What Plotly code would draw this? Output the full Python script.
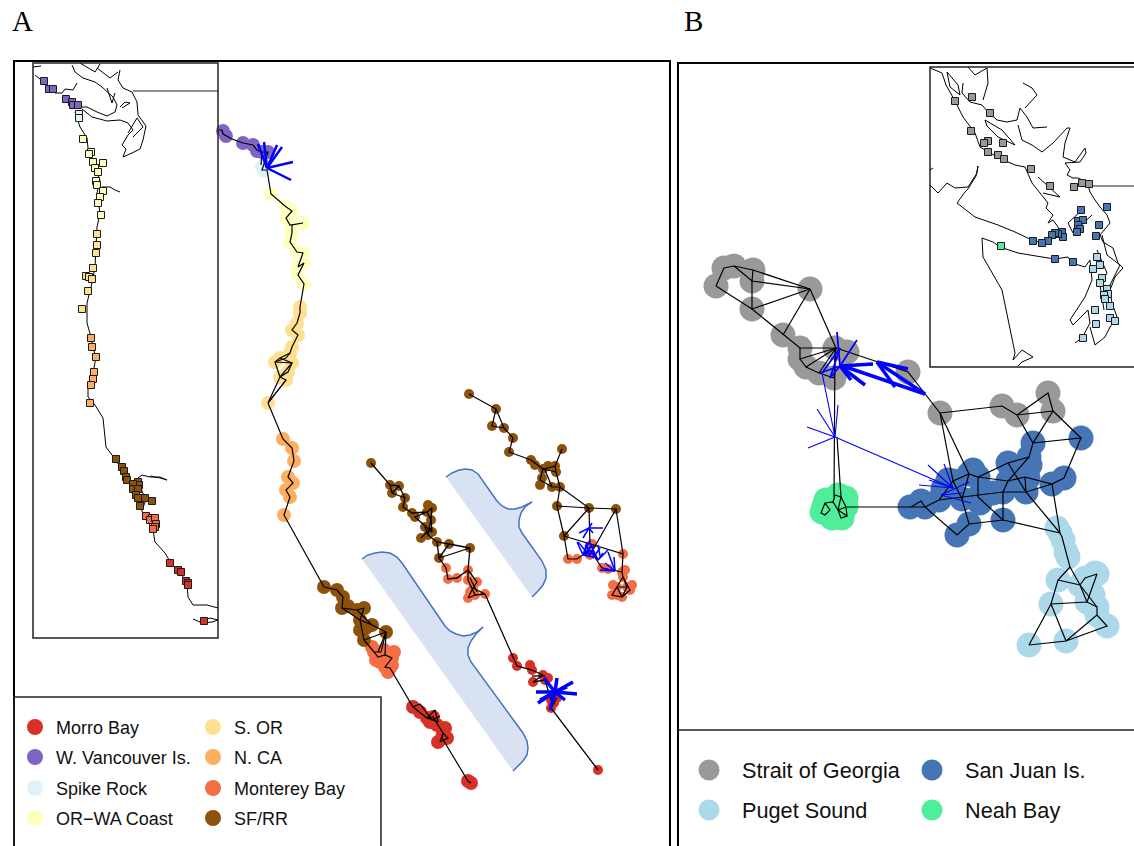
import plotly.graph_objects as go

# colours
morro = '#D73027'
vanc = '#8064C4'
spike = '#E0F3F8'
orwa = '#FFFFBF'
sor = '#FEE090'
nca = '#FDAE61'
monterey = '#F46D43'
sfrr = '#8C510A'
georgia = '#999999'
sanjuan = '#4575B4'
puget = '#ABD9E9'
neah = '#4FEE9A'

# legends
legend_a_names = ['Morro Bay', 'W. Vancouver Is.', 'Spike Rock', 'OR\u2212WA Coast', 'S. OR', 'N. CA', 'Monterey Bay', 'SF/RR']
legend_a_cols = [morro, vanc, spike, orwa, sor, nca, monterey, sfrr]
legend_a_x = [35, 35, 35, 35, 213, 213, 213, 213]
legend_a_y = [727, 757, 788, 818, 727, 757, 788, 818]
legend_b_names = ['Strait of Georgia', 'Puget Sound', 'San Juan Is.', 'Neah Bay']
legend_b_cols = [georgia, puget, sanjuan, neah]
legend_b_x = [709, 709, 932, 932]
legend_b_y = [770, 810, 770, 810]

# first network, panel A
n1_vanc = [(223,131),(226,136),(243,143),(253,145),(257,151),(262,152),(268,152)]
n1_spike = [(262,167),(264,171)]
n1_orwa = [(271,194),(285,206),(292,211),(286,218),(290,225),(303,223),(292,233),(290,242),(297,252),(303,253),(298,267),(304,263),(298,275),(304,284)]
n1_sor = [(300,307),(300,313),(297,323),(292,330),(298,335),(292,347),(290,353),(280,358),(275,362),(292,363),(288,372),(280,377),(286,380),(268,403)]
n1_nca = [(283,439),(292,448),(294,461),(288,477),(293,483),(286,490),(290,497),(284,515)]
n1_sf = [(324,587),(337,590),(343,597),(342,608),(348,606),(357,610),(364,608),(360,620),(362,625),(372,625),(366,628),(360,630),(364,640),(386,632)]
n1_mont = [(372,647),(374,652),(378,657),(384,650),(385,655),(394,652),(392,658),(380,662),(376,660),(385,667),(390,668),(388,672),(392,665)]
n1_morro = [(413,707),(420,712),(427,718),(433,717),(430,722),(437,725),(445,728),(443,733),(442,738),(438,742),(447,738),(468,781),(471,783)]
n1_edges = [
    [(219,130),(222,130),(223,134),(232,139),(243,143),(253,145),(257,150),(262,152),(268,152),(263,167),(262,170),(267,170),(271,194),(285,206),(292,211),(286,218),(290,225),(303,223),(292,225),(292,233),(290,242),(297,252),(303,253),(298,267),(304,263),(298,275),(304,284),(300,307),(300,313),(297,323),(292,330),(298,335),(292,347),(290,353),(280,358),(275,362),(292,363),(288,372),(280,377),(286,380),(268,403),(280,377)],
    [(290,353),(286,358),(275,362),(280,377),(292,363),(280,358)],
    [(262,152),(261,165)],
    [(268,403),(286,380)],
    [(268,403),(283,439),(292,448),(294,461),(288,477),(293,483),(286,490),(290,497),(284,515),(324,587),(337,590),(343,597),(342,608),(357,610),(364,608),(360,620),(372,625),(386,632),(381,652),(374,652),(378,657),(385,655),(392,658),(385,667),(390,668),(413,707),(427,718),(433,717),(443,733),(442,738),(468,781),(471,783)],
    [(342,608),(360,620),(364,640),(374,652)],
    [(357,610),(372,625)],
    [(386,632),(364,640)],
    [(386,632),(385,655)],
    [(386,632),(378,652)],
    [(413,707),(420,704),(432,720),(440,716)],
    [(427,718),(435,710),(438,722),(427,718)],
    [(443,733),(440,742),(448,738),(443,733)],
]

# second network
n2_sf = [(371,463),(390,485),(399,486),(392,493),(405,498),(403,507),(412,513),(415,517),(432,508),(427,512),(431,520),(428,505),(425,527),(432,532),(421,538),(428,535),(437,542),(449,544),(470,548),(439,558)]
n2_mont = [(446,568),(448,579),(457,578),(468,570),(468,580),(477,582),(473,588),(470,592),(468,598),(475,595),(485,594)]
n2_morro = [(513,658),(517,666),(532,670),(530,665),(543,675),(533,682),(545,680),(548,678),(551,700),(557,698),(553,695),(554,703),(551,708),(598,770)]
n2_edges = [
    [(371,463),(390,485),(399,486),(392,493),(390,485)],
    [(392,493),(405,498),(399,486)],
    [(405,498),(403,507),(412,513),(427,512),(432,508),(431,520),(427,512),(415,517),(432,532),(431,520)],
    [(425,527),(428,535),(431,520)],
    [(421,538),(432,527)],
    [(428,535),(437,542),(449,544),(470,548),(439,558),(437,542)],
    [(449,544),(439,558),(446,568),(448,579),(457,578),(468,570),(470,548)],
    [(468,570),(477,582),(473,588),(468,598),(475,595),(468,580),(468,570)],
    [(473,588),(485,594),(475,595)],
    [(470,578),(477,592)],
    [(485,594),(513,658),(517,666),(532,670),(543,675),(533,682),(545,680),(551,700),(557,698),(551,708),(598,770)],
    [(532,676),(545,676)],
]

# third network
n3_sf = [(469,394),(496,409),(492,426),(504,428),(513,438),(509,452),(531,460),(535,465),(562,449),(543,469),(548,466),(555,466),(556,472),(542,478),(540,485),(552,487),(560,487),(557,506),(589,508),(616,509),(564,536)]
n3_mont = [(568,559),(577,559),(592,544),(590,555),(623,554),(602,568),(608,569),(622,572),(625,570),(623,577),(627,587),(617,587),(613,585),(612,595),(617,595),(622,597),(630,590),(632,585)]
n3_edges = [
    [(469,394),(496,409),(492,426),(504,428),(496,409)],
    [(504,428),(513,438),(509,452),(531,460),(543,469),(555,466),(562,449)],
    [(543,469),(540,480),(552,487),(560,487),(556,472),(555,466)],
    [(543,469),(556,472)],
    [(545,470),(552,487)],
    [(560,487),(589,508),(616,509),(590,555)],
    [(589,508),(590,545)],
    [(616,509),(623,554)],
    [(557,506),(589,508)],
    [(557,506),(564,536),(589,508)],
    [(560,487),(557,506)],
    [(564,536),(568,559),(577,559),(590,550)],
    [(564,536),(623,554),(622,572)],
    [(590,550),(602,568),(622,572),(623,577),(627,587),(617,587),(612,595),(622,597),(630,590),(623,577),(612,595)],
    [(617,587),(622,597)],
    [(627,587),(622,597)],
]

# blue movement lines, panel A
blue_a_thick = [[(267,168),(258,144)],[(267,168),(264,142)],[(267,168),(277,145)],[(267,168),(282,147)],[(267,168),(293,162)],[(267,168),(291,180)]]
blue_star = [[(555,692),(573,682)],[(555,692),(577,694)],[(555,692),(557,678)],[(555,692),(536,692)],[(555,692),(538,703)],[(555,692),(550,710)],[(555,692),(565,700)],[(555,692),(540,700)],[(555,692),(544,678)],[(555,692),(567,687)],[(555,692),(552,700)]]
blue_n3 = [
    [(589,528),(579,533)],[(589,528),(583,538)],[(589,528),(593,533)],[(589,528),(603,528)],[(589,528),(592,523)],
    [(583,555),(577,542)],[(583,555),(587,543)],[(583,555),(592,545)],[(583,555),(593,557)],[(583,555),(590,540)],
    [(590,556),(578,542)],[(590,556),(586,542)],[(590,556),(594,545)],[(585,556),(592,545)],[(600,556),(598,545)],[(593,558),(600,548)],
    [(598,560),(608,550)],[(598,560),(590,543)],[(598,560),(592,550)],[(598,560),(603,553)],[(598,560),(585,545)],
    [(615,571),(608,552)],[(615,571),(614,557)],[(615,571),(605,563)],[(615,571),(602,568)],[(615,571),(600,570)],
]

# braces
big_brace = [(362,559),(368,555),(375,553),(382,552),(390,553),(397,557),(402,563),(445,626),(450,631),(456,634),(463,636),(470,635),(477,632),(483,627)]
big_brace2 = [(483,627),(476,634),(471,641),(468,648),(468,655),(471,662),(523,733),(527,741),(528,748),(527,755),(523,761),(518,766),(513,771)]
small_brace = [(446,477),(452,473),(459,470),(466,469),(472,470),(478,474),(497,501),(502,506),(508,509),(515,509),(522,507),(532,502)]
small_brace2 = [(532,502),(525,507),(521,513),(519,520),(519,527),(522,533),(542,561),(546,570),(546,578),(543,585),(538,591),(532,597)]

# inset map A
a_coast = [
    [(75,112),(80,127),(87,138),(88,148),(93,163),(100,180),(97,193),(100,213),(97,227),(96,250),(95,267),(92,283),(87,303),(87,323),(91,337),(93,348),(96,357),(93,373),(88,385),(88,397),(95,405),(103,418),(104,430),(106,447),(115,459),(127,477),(135,490),(140,507),(145,517),(153,530),(155,542),(165,553),(171,563),(180,572),(187,583),(188,597),(193,605),(207,605),(218,608)],
    [(138,478),(142,475),(150,477),(160,477),(167,480),(160,478),(150,476)],
    [(138,482),(146,500),(142,510)],
    [(193,619),(202,623),(212,622),(218,620),(210,618),(200,622)],
    [(102,187),(110,187),(115,190),(120,192)],
    [(33,67),(41,66)],
    [(35,75),(40,79),(43,83),(52,88),(55,93),(62,93),(65,89),(73,90),(77,83)],
    [(72,65),(75,72),(83,78),(95,82),(102,87),(107,92),(113,97),(117,105),(115,112),(107,116),(97,112),(87,107),(82,107)],
    [(82,109),(92,117),(107,121),(120,120),(128,123),(133,130),(128,135),(122,145),(126,149),(123,157),(132,153),(140,149),(143,140),(146,126),(138,115),(137,102),(132,92),(123,88),(118,80),(120,70)],
    [(80,63),(95,72),(100,64)],
    [(97,68),(110,78),(118,72)],
    [(107,88),(112,103),(115,93)],
    [(122,108),(130,103),(125,102),(120,107)],
    [(128,133),(137,118),(143,127),(133,137)],
]
a_vanc = [(44,81),(49,89),(53,89),(66,99),(72,102),(73,105),(78,105)]
a_spike = [(79,114),(79,118)]
a_orwa = [(83,139),(91,152),(89,154),(93,162),(103,163),(95,168),(98,172),(96,181),(97,185),(103,191),(100,197),(98,203),(101,215)]
a_sor = [(97,234),(97,245),(96,253),(93,268),(86,276),(89,277),(92,279),(88,291),(82,309)]
a_nca = [(91,338),(92,347),(96,357),(94,372),(93,379),(91,385),(90,403)]
a_sf = [(116,459),(122,467),(124,471),(126,477),(127,480),(138,482),(139,485),(133,484),(133,489),(138,489),(136,495),(138,498),(145,498),(152,501),(140,506)]
a_mont = [(146,516),(152,518),(150,520),(155,518),(156,524),(155,527),(153,529)]
a_morro = [(170,563),(178,570),(181,572),(186,581),(188,583),(188,585),(204,621)]

# panel B network
b_georgia = [(716,286),(724,268),(734,266),(753,270),(752,281),(752,309),(810,289),(783,335),(800,348),(800,359),(806,367),(819,373),(835,348),(847,352),(834,378),(908,372),(940,413),(1002,406),(1017,415),(1048,393),(1053,411)]
b_sanjuan = [(1081,438),(1033,443),(1029,457),(1030,465),(1008,463),(1025,477),(1028,478),(1052,484),(1064,478),(1026,492),(1008,481),(1003,492),(993,493),(978,477),(969,474),(973,470),(953,481),(948,480),(978,497),(980,503),(962,499),(943,489),(939,500),(925,507),(921,501),(910,507),(969,524),(957,535),(1003,520)]
b_neah = [(838,495),(826,500),(822,512),(824,506),(832,518),(842,518),(846,507),(846,498),(835,506)]
b_puget = [(1057,528),(1060,533),(1063,540),(1066,552),(1068,557),(1058,580),(1080,585),(1085,578),(1095,573),(1097,574),(1093,595),(1087,602),(1097,607),(1097,615),(1107,626),(1066,641),(1029,645),(1051,604)]
b_edges = [
    [(716,286),(724,268),(734,266),(753,270),(810,289)],
    [(734,266),(752,281),(810,289)],
    [(753,270),(752,281),(752,309),(810,289)],
    [(716,286),(752,309),(800,348),(836,348)],
    [(783,335),(810,289),(836,348)],
    [(800,348),(800,359),(836,348)],
    [(800,359),(806,367),(836,348)],
    [(806,367),(819,373),(834,378),(836,348)],
    [(819,373),(836,348)],
    [(836,348),(875,361),(908,372),(940,413)],
    [(835,348),(834,497)],
    [(837,437),(841,497)],
    [(835,495),(841,497),(846,507),(847,516),(841,518),(838,510),(833,502),(825,503),(821,513),(825,515),(830,510),(825,503)],
    [(835,495),(833,502)],
    [(841,497),(838,510),(847,516)],
    [(846,507),(838,510)],
    [(847,507),(911,507)],
    [(911,507),(921,501),(925,507),(911,507)],
    [(925,507),(939,500),(953,481),(969,474),(978,477),(1008,463),(1029,457),(1033,443),(1081,438),(1064,478),(1052,484),(1025,477),(1008,481),(978,477)],
    [(925,507),(957,535),(969,524),(1003,520),(1060,533),(1052,484)],
    [(939,500),(1003,492),(1026,492),(1052,484)],
    [(1026,492),(1060,533)],
    [(1003,520),(1003,492),(1008,481),(1029,457)],
    [(1008,463),(1026,492)],
    [(969,474),(962,499),(969,524)],
    [(978,477),(978,497),(1003,520)],
    [(953,481),(962,499)],
    [(940,413),(953,481)],
    [(940,413),(969,474)],
    [(940,413),(1002,406),(1017,415),(1053,411),(1048,393),(1017,415)],
    [(1017,415),(1033,443),(1053,411),(1081,438)],
    [(1025,477),(1026,492)],
    [(1060,533),(1062,537),(1070,567),(1058,580),(1051,604),(1029,645),(1066,641),(1051,604),(1087,602),(1097,607),(1097,615),(1066,641),(1107,626),(1097,615)],
    [(1058,580),(1080,585),(1087,602),(1097,574),(1085,578),(1080,585),(1070,567)],
    [(1080,585),(1097,607)],
]
b_blue_heavy = [[(925,394),(840,365)],[(925,394),(877,362)],[(908,369),(877,362)],[(895,387),(877,362)],[(873,364),(840,366)],[(865,385),(840,366)],[(851,380),(840,366)]]
b_blue_mid = [[(840,366),(820,373)],[(840,366),(837,332)],[(840,366),(857,340)],[(840,366),(830,378)],[(840,348),(822,373)],[(840,348),(830,378)]]
b_blue_thin = [[(822,373),(835,437)],[(817,409),(835,437)],[(838,405),(835,437)],[(807,427),(835,437)],[(808,448),(835,437)],[(835,437),(953,488)],[(928,465),(953,488)],[(944,464),(953,488)],[(919,485),(953,488)],[(929,480),(953,488)],[(969,482),(941,495)],[(971,503),(941,495)],[(963,493),(941,495)]]

# inset map B
b_coast = [
    [(930,68),(942,73),(946,85),(955,101),(963,117),(975,133),(980,147),(997,157),(1015,165),(1025,167),(1032,183),(1043,197),(1048,203),(1046,208),(1053,215),(1048,223),(1053,220),(1058,227),(1060,233)],
    [(930,185),(938,193),(947,183),(955,188),(968,187),(977,173),(978,166),(976,176),(968,189),(965,192),(957,203),(975,217),(998,225),(1015,232),(1032,240),(1042,243),(1048,240),(1058,237),(1060,233)],
    [(963,83),(962,93),(970,102),(982,105),(988,112),(997,120),(1007,122),(1017,120),(1020,108),(1027,117),(1033,128),(1047,127)],
    [(1023,83),(1032,88),(1037,95),(1030,102),(1025,108)],
    [(1018,125),(1022,140),(1032,145),(1042,152),(1053,143),(1067,128),(1070,128),(1065,143),(1063,157),(1075,162),(1085,148),(1086,153),(1080,162),(1065,163),(1070,170),(1067,175),(1073,178),(1078,178),(1087,182),(1090,192),(1095,200),(1100,207),(1107,215),(1110,223),(1100,235),(1103,242),(1113,248),(1118,263),(1123,268),(1115,277),(1110,290),(1112,303),(1117,317),(1110,327),(1105,337),(1095,345),(1090,327)],
    [(982,238),(993,242),(1000,247),(1018,253),(1042,257),(1055,259),(1068,257),(1072,263),(1085,267),(1090,260),(1092,280),(1085,297),(1070,320),(1073,325),(1088,310),(1090,323),(1082,338),(1075,343)],
    [(982,238),(983,257),(1002,290),(1010,327),(1015,353),(1013,360),(1022,350),(1033,357),(1022,362),(1018,366)],
    [(985,120),(1002,130),(1015,145),(998,137),(987,126),(985,120)],
    [(947,72),(958,85),(960,95),(950,87),(947,72)],
    [(968,67),(975,75),(987,68),(988,83),(983,100)],
    [(1038,177),(1060,197),(1043,193)],
    [(1082,210),(1068,223),(1073,233),(1092,215)],
    [(1102,235),(1107,255),(1120,265),(1110,285)],
    [(1097,250),(1107,273),(1100,285),(1104,310)],
    [(930,170),(933,168)],
]
ib_georgia = [(955,101),(972,97),(990,113),(971,131),(988,141),(984,143),(1003,143),(988,152),(998,155),(1004,159),(1031,169),(1050,186),(1074,187),(1082,183),(1089,184)]
ib_sanjuan = [(1107,207),(1081,210),(1078,221),(1083,220),(1099,225),(1078,225),(1080,229),(1077,232),(1096,236),(1062,232),(1063,237),(1058,234),(1055,233),(1052,235),(1048,241),(1042,243),(1033,241),(1055,259),(1073,262)]
ib_neah = [(1001,246)]
ib_puget = [(1097,257),(1100,265),(1093,269),(1102,278),(1100,283),(1107,289),(1108,294),(1104,295),(1105,299),(1110,306),(1095,310),(1110,318),(1115,321),(1096,324),(1083,338)]


def xs(pts):
    return [p[0] for p in pts]


def ys(pts):
    return [p[1] for p in pts]


def add_lines(fig, groups, color='black', width=1.2):
    x, y = [], []
    for g in groups:
        x += xs(g) + [None]
        y += ys(g) + [None]
    fig.add_trace(go.Scatter(x=x, y=y, mode='lines', line=dict(color=color, width=width), hoverinfo='skip'))


def add_nodes(fig, pts, color, size, symbol='circle', line=0):
    fig.add_trace(go.Scatter(x=xs(pts), y=ys(pts), mode='markers', hoverinfo='skip',
                             marker=dict(color=color, size=size, symbol=symbol, line=dict(color='#1a1a1a', width=line))))


fig = go.Figure()

# braces first so they sit behind
for a, b in [(big_brace, big_brace2), (small_brace, small_brace2)]:
    fig.add_trace(go.Scatter(x=xs(a + b), y=ys(a + b), mode='lines', fill='toself', fillcolor='#D9E2F3',
                             line=dict(width=0, color='#D9E2F3'), hoverinfo='skip'))
    add_lines(fig, [a, b], color='#4472C4', width=1.5)

# halos
for pts, col in [(n1_spike, spike), (n1_vanc, vanc), (n1_orwa, orwa), (n1_sor, sor), (n1_nca, nca), (n1_mont, monterey), (n1_sf, sfrr), (n1_morro, morro)]:
    add_nodes(fig, pts, col, 14)
for pts, col in [(n2_mont, monterey), (n2_sf, sfrr), (n2_morro, morro), (n3_mont, monterey), (n3_sf, sfrr)]:
    add_nodes(fig, pts, col, 10)
for pts, col in [(b_georgia, georgia), (b_sanjuan, sanjuan), (b_neah, neah), (b_puget, puget)]:
    add_nodes(fig, pts, col, 25)

# black edges
add_lines(fig, n1_edges, width=1.2)
add_lines(fig, n2_edges, width=1.3)
add_lines(fig, n3_edges, width=1.2)
add_lines(fig, b_edges, width=1.2)

# blue movement
add_lines(fig, blue_a_thick, color='#0000FF', width=2.5)
add_lines(fig, blue_star, color='#0000FF', width=3.5)
add_lines(fig, blue_n3, color='#0000FF', width=1.5)
add_lines(fig, b_blue_heavy, color='#0000FF', width=3.5)
add_lines(fig, b_blue_mid, color='#0000FF', width=1.8)
add_lines(fig, b_blue_thin, color='#0000FF', width=1.1)

# inset maps
add_lines(fig, a_coast, width=1)
add_lines(fig, b_coast, width=1)
for pts, col in [(a_vanc, vanc), (a_spike, spike), (a_orwa, orwa), (a_sor, sor), (a_nca, nca), (a_sf, sfrr), (a_mont, monterey), (a_morro, morro)]:
    add_nodes(fig, pts, col, 7, 'square', 1)
for pts, col in [(ib_georgia, georgia), (ib_sanjuan, sanjuan), (ib_neah, neah), (ib_puget, puget)]:
    add_nodes(fig, pts, col, 7, 'square', 1)

# legend markers
for x, y, c in zip(legend_a_x, legend_a_y, legend_a_cols):
    add_nodes(fig, [(x, y)], c, 16)
for x, y, c in zip(legend_b_x, legend_b_y, legend_b_cols):
    add_nodes(fig, [(x, y)], c, 21)

# frames
frame = dict(type='rect', xref='x', yref='y', fillcolor='rgba(0,0,0,0)')
shapes = [
    dict(frame, x0=14, y0=61, x1=670, y1=900, line=dict(color='black', width=2)),
    dict(frame, x0=33, y0=63, x1=218, y1=638, line=dict(color='#222222', width=1.5)),
    dict(frame, x0=14, y0=697, x1=381, y1=900, line=dict(color='#222222', width=1.5)),
    dict(frame, x0=678, y0=63, x1=1200, y1=900, line=dict(color='black', width=2)),
    dict(frame, x0=930, y0=67, x1=1200, y1=367, line=dict(color='#222222', width=1.5)),
    dict(type='line', xref='x', yref='y', x0=678, y0=730, x1=1134, y1=730, line=dict(color='#222222', width=1.5)),
    dict(type='line', xref='x', yref='y', x0=133, y0=91, x1=218, y1=91, line=dict(color='#222222', width=1)),
    dict(type='line', xref='x', yref='y', x0=1093, y0=186, x1=1134, y1=186, line=dict(color='#222222', width=1)),
]

annotations = []
for name, x, y in zip(legend_a_names, legend_a_x, legend_a_y):
    annotations.append(dict(x=x + 19, y=y + 1, text=name, showarrow=False, xanchor='left', yanchor='middle',
                            font=dict(family='Liberation Sans', size=18, color='#111111')))
for name, x, y in zip(legend_b_names, legend_b_x, legend_b_y):
    annotations.append(dict(x=x + 31, y=y, text=name, showarrow=False, xanchor='left', yanchor='middle',
                            font=dict(family='Liberation Sans', size=21.7, color='#111111')))
for label, x in [('A', 10), ('B', 682)]:
    annotations.append(dict(x=x, y=21, text=label, showarrow=False, xanchor='left', yanchor='middle',
                            font=dict(family='Liberation Serif', size=29, color='black')))

fig.update_layout(width=1134, height=846, margin=dict(l=0, r=0, t=0, b=0), showlegend=False,
                  plot_bgcolor='white', paper_bgcolor='white', shapes=shapes, annotations=annotations)
fig.update_xaxes(range=[0, 1134], visible=False)
fig.update_yaxes(range=[846, 0], visible=False)
fig.write_html("out.html", config=dict(displayModeBar=False), post_script="document.body.style.margin='0';")
